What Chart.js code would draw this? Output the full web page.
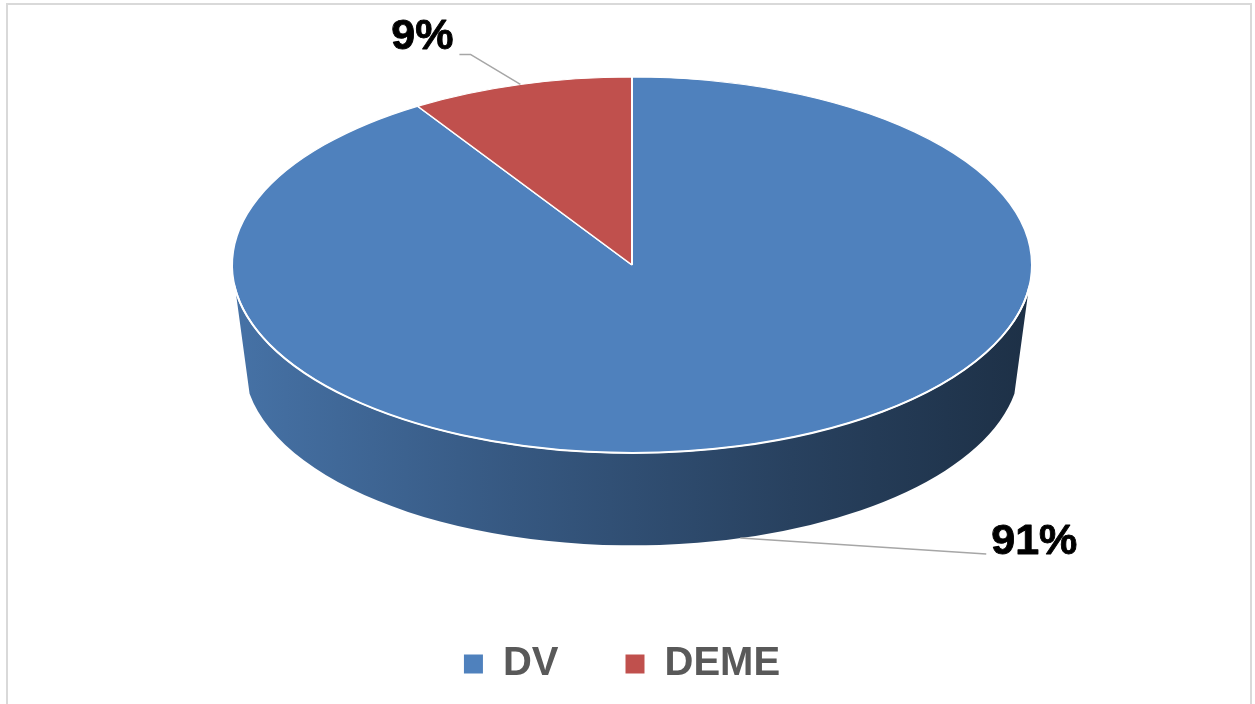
<!DOCTYPE html>
<html>
<head>
<meta charset="utf-8">
<title>DV / DEME</title>
<script src="https://cdn.jsdelivr.net/npm/chart.js@4.4.1/dist/chart.umd.min.js"></script>
<style>
  html, body { margin: 0; padding: 0; background: #ffffff; }
  #wrap { position: relative; width: 1255px; height: 704px; overflow: hidden; }
  #frame { position: absolute; left: 6px; top: 3px; width: 1246px; height: 760px;
           border: 2px solid #d9d9d9; box-sizing: border-box; pointer-events: none; }
  canvas { display: block; }
</style>
</head>
<body>
<div id="wrap">
  <canvas id="chart" width="1255" height="704"></canvas>
  <div id="frame"></div>
</div>
<script>
// Categories and their shares (percent)
const categories = ['DV', 'DEME'];
const shares = [91, 9];
const sliceColors = ['#4F81BD', '#C0504D'];
const percentLabels = ['91%', '9%'];

// Look of the tilted disc
const TILT = 0.47;          // vertical squash of the top face
const DEPTH = 0.245;        // thickness of the disc, relative to the radius
const BASE_SHRINK = 0.97;   // the bottom rim is slightly smaller (perspective)
const SIDE_TOP_START = 0.13;   // silhouette angles (radians) on the top rim
const SIDE_BASE_START = 0.17;  // ... and on the bottom rim
const LEGEND_SHIFT = -10;      // nudge of the legend row

function shade(hex, f) {
  const n = parseInt(hex.slice(1), 16);
  const r = Math.round(((n >> 16) & 255) * f);
  const g = Math.round(((n >> 8) & 255) * f);
  const b = Math.round((n & 255) * f);
  return `rgb(${r},${g},${b})`;
}

function geometry(chart) {
  const arc = chart.getDatasetMeta(0).data[0];
  const { x, y, outerRadius } = arc.getProps(['x', 'y', 'outerRadius'], true);
  const rx = outerRadius;
  const ry = rx * TILT;
  const cy = chart.chartArea.top + ry;
  return {
    x, y, rx, ry, cy,
    rxb: rx * BASE_SHRINK,
    ryb: ry * BASE_SHRINK,
    cyb: cy + rx * DEPTH
  };
}

// Draws the disc thickness below the pie, then squashes the pie itself.
const tiltedPie = {
  id: 'tiltedPie',
  afterLayout(chart) {
    if (chart.legend) {
      chart.legend.left += LEGEND_SHIFT;
      chart.legend.right += LEGEND_SHIFT;
    }
  },
  beforeDatasetsDraw(chart) {
    const ctx = chart.ctx;
    const g = geometry(chart);
    const arcs = chart.getDatasetMeta(0).data;
    const lo = SIDE_TOP_START, hi = Math.PI - SIDE_TOP_START;
    const loB = SIDE_BASE_START, hiB = Math.PI - SIDE_BASE_START;

    arcs.forEach((arc, i) => {
      const s = arc.startAngle, e = arc.endAngle;
      for (const shift of [0, 2 * Math.PI, -2 * Math.PI]) {
        const a1 = Math.max(s + shift, lo);
        const a2 = Math.min(e + shift, hi);
        if (a2 <= a1) continue;
        const b1 = Math.max(s + shift, loB);
        const b2 = Math.min(e + shift, hiB);
        ctx.save();
        ctx.beginPath();
        ctx.ellipse(g.x, g.cy, g.rx, g.ry, 0, a1, a2, false);
        ctx.ellipse(g.x, g.cyb, g.rxb, g.ryb, 0, Math.max(b2, b1), Math.min(b1, b2), true);
        ctx.closePath();
        const grad = ctx.createLinearGradient(g.x - g.rx, 0, g.x + g.rx, 0);
        const base = sliceColors[i % sliceColors.length];
        grad.addColorStop(0, shade(base, 0.88));
        grad.addColorStop(0.35, shade(base, 0.68));
        grad.addColorStop(0.7, shade(base, 0.50));
        grad.addColorStop(1, shade(base, 0.37));
        ctx.fillStyle = grad;
        ctx.fill();
        ctx.restore();
      }
    });

    ctx.save();
    ctx.translate(g.x, g.cy);
    ctx.scale(1, TILT);
    ctx.translate(-g.x, -g.y);
  },
  afterDatasetsDraw(chart) {
    const ctx = chart.ctx;
    ctx.restore();
    const g = geometry(chart);

    // crisp white rim along the front edge of the top face
    ctx.save();
    ctx.beginPath();
    ctx.ellipse(g.x, g.cy, g.rx, g.ry, 0, 0.11, Math.PI - 0.11, false);
    ctx.strokeStyle = '#ffffff';
    ctx.lineWidth = 2;
    ctx.stroke();
    ctx.restore();

    // percentage labels with leader lines
    const arcs = chart.getDatasetMeta(0).data;
    ctx.save();
    ctx.font = 'bold 43px "Liberation Sans", Arial, sans-serif';
    ctx.lineJoin = 'round';
    arcs.forEach((arc, i) => {
      const mid = (arc.startAngle + arc.endAngle) / 2;
      const front = Math.sin(mid) > 0;
      const ax = front ? g.x + g.rxb * Math.cos(mid) : g.x + g.rx * Math.cos(mid);
      const ay = front ? g.cyb + g.ryb * Math.sin(mid) : g.cy + g.ry * Math.sin(mid);
      let tx, ty;
      ctx.beginPath();
      ctx.moveTo(ax, ay);
      if (front) {
        const ex = ax + 246, ey = ay + 16;
        ctx.lineTo(ex, ey);
        ctx.textAlign = 'left';
        tx = ex + 5; ty = ey - 12;
      } else {
        const kx = ax - 50, ky = ay - 30;
        const ex = kx - 11;
        ctx.lineTo(kx, ky);
        ctx.lineTo(ex, ky);
        ctx.textAlign = 'right';
        tx = ex - 6; ty = ky - 17;
      }
      ctx.strokeStyle = '#a6a6a6';
      ctx.lineWidth = 1.5;
      ctx.stroke();
      ctx.textBaseline = 'middle';
      ctx.fillStyle = '#000000';
      ctx.strokeStyle = '#000000';
      ctx.lineWidth = 0.9;
      ctx.fillText(percentLabels[i], tx, ty);
      ctx.strokeText(percentLabels[i], tx, ty);
    });
    ctx.restore();
  }
};

Chart.defaults.font.family = '"Liberation Sans", Arial, sans-serif';

new Chart(document.getElementById('chart'), {
  type: 'pie',
  data: {
    labels: categories,
    datasets: [{
      data: shares,
      backgroundColor: sliceColors,
      borderColor: '#ffffff',
      borderWidth: 2,
      radius: 400,
      clip: false
    }]
  },
  options: {
    responsive: false,
    animation: false,
    events: [],
    layout: { padding: { top: 77, left: 9, right: 0, bottom: 10 } },
    plugins: {
      tooltip: { enabled: false },
      legend: {
        position: 'bottom',
        labels: {
          boxWidth: 19,
          boxHeight: 19,
          padding: 67,
          color: '#595959',
          font: { size: 40, weight: 'bold' },
          generateLabels: (chart) => chart.data.labels.map((text, i) => ({
            text,
            fillStyle: sliceColors[i],
            strokeStyle: sliceColors[i],
            lineWidth: 0,
            fontColor: '#595959',
            hidden: false,
            index: i
          }))
        }
      }
    }
  },
  plugins: [tiltedPie]
});
</script>
</body>
</html>
